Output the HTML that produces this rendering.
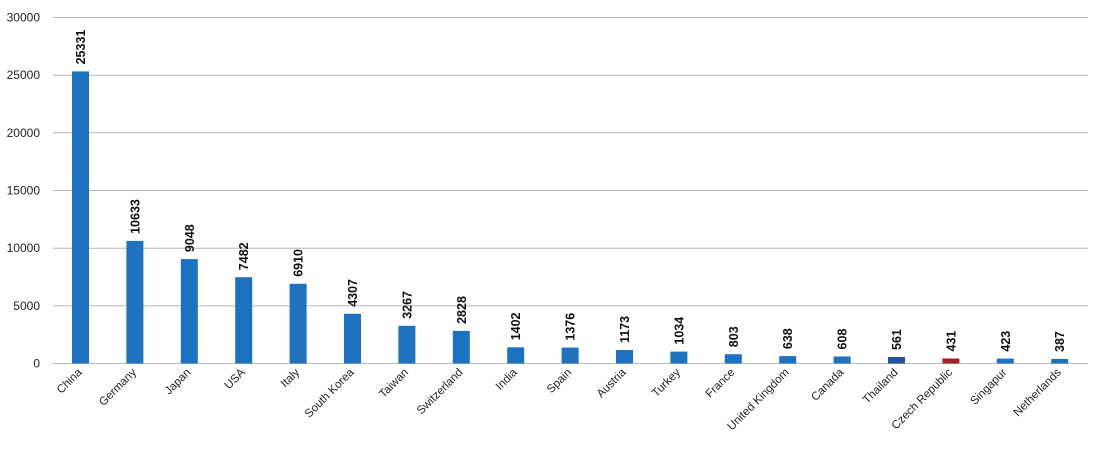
<!DOCTYPE html>
<html><head><meta charset="utf-8"><style>
html,body{margin:0;padding:0;background:#fff;}
svg{display:block;font-family:"Liberation Sans",sans-serif;}
.g{stroke:#b8b8b8;stroke-width:1}
.y{font-size:12px;fill:#222;text-anchor:end}
.v{font-size:12.5px;font-weight:bold;fill:#111}
.x{font-size:11.5px;fill:#222;text-anchor:end}
</style></head><body>
<svg width="1095" height="449" viewBox="0 0 1095 449">
<line class="g" x1="53" x2="1088" y1="17.5" y2="17.5"/>
<line class="g" x1="53" x2="1088" y1="75.2" y2="75.2"/>
<line class="g" x1="53" x2="1088" y1="132.8" y2="132.8"/>
<line class="g" x1="53" x2="1088" y1="190.5" y2="190.5"/>
<line class="g" x1="53" x2="1088" y1="248.2" y2="248.2"/>
<line class="g" x1="53" x2="1088" y1="305.8" y2="305.8"/>
<line class="g" x1="53" x2="1088" y1="363.5" y2="363.5"/>
<text x="40" y="21.5" class="y">30000</text>
<text x="40" y="79" class="y">25000</text>
<text x="40" y="137" class="y">20000</text>
<text x="40" y="194.5" class="y">15000</text>
<text x="40" y="252" class="y">10000</text>
<text x="40" y="310" class="y">5000</text>
<text x="40" y="367.5" class="y">0</text>

<g fill="#1f72c0">
<rect x="72" y="71.4" width="17" height="292.1"/>
<rect x="126.4" y="240.9" width="17" height="122.6"/>
<rect x="180.8" y="259.1" width="17" height="104.4"/>
<rect x="235.2" y="277.2" width="17" height="86.3"/>
<rect x="289.6" y="283.8" width="17" height="79.7"/>
<rect x="344" y="313.8" width="17" height="49.7"/>
<rect x="398.4" y="325.8" width="17" height="37.7"/>
<rect x="452.8" y="330.9" width="17" height="32.6"/>
<rect x="507.2" y="347.3" width="17" height="16.2"/>
<rect x="561.6" y="347.6" width="17" height="15.9"/>
<rect x="616" y="350" width="17" height="13.5"/>
<rect x="670.4" y="351.6" width="17" height="11.9"/>
<rect x="724.8" y="354.2" width="17" height="9.3"/>
<rect x="779.2" y="356.1" width="17" height="7.4"/>
<rect x="833.6" y="356.5" width="17" height="7"/>
<rect x="888" y="357" width="17" height="6.5" fill="#24519c"/>
<rect x="942.4" y="358.5" width="17" height="5" fill="#a3222a"/>
<rect x="996.8" y="358.6" width="17" height="4.9"/>
<rect x="1051.2" y="359" width="17" height="4.5"/>
</g>

<g class="v">
<text class="v" transform="translate(85,64.4) rotate(-90)">25331</text>
<text class="v" transform="translate(139.4,233.9) rotate(-90)">10633</text>
<text class="v" transform="translate(193.8,252.1) rotate(-90)">9048</text>
<text class="v" transform="translate(248.2,270.2) rotate(-90)">7482</text>
<text class="v" transform="translate(302.6,276.8) rotate(-90)">6910</text>
<text class="v" transform="translate(357,306.8) rotate(-90)">4307</text>
<text class="v" transform="translate(411.4,318.8) rotate(-90)">3267</text>
<text class="v" transform="translate(465.8,323.9) rotate(-90)">2828</text>
<text class="v" transform="translate(520.2,340.3) rotate(-90)">1402</text>
<text class="v" transform="translate(574.6,340.6) rotate(-90)">1376</text>
<text class="v" transform="translate(629,343) rotate(-90)">1173</text>
<text class="v" transform="translate(683.4,344.6) rotate(-90)">1034</text>
<text class="v" transform="translate(737.8,347.2) rotate(-90)">803</text>
<text class="v" transform="translate(792.2,349.1) rotate(-90)">638</text>
<text class="v" transform="translate(846.6,349.5) rotate(-90)">608</text>
<text class="v" transform="translate(901,350) rotate(-90)">561</text>
<text class="v" transform="translate(955.4,351.5) rotate(-90)">431</text>
<text class="v" transform="translate(1009.8,351.6) rotate(-90)">423</text>
<text class="v" transform="translate(1064.2,352) rotate(-90)">387</text>
</g>

<text class="x" transform="translate(82.5,373) rotate(-45)">China</text>
<text class="x" transform="translate(136.9,373) rotate(-45)">Germany</text>
<text class="x" transform="translate(191.3,373) rotate(-45)">Japan</text>
<text class="x" transform="translate(245.7,373) rotate(-45)">USA</text>
<text class="x" transform="translate(300.1,373) rotate(-45)">Italy</text>
<text class="x" transform="translate(354.5,373) rotate(-45)">South Korea</text>
<text class="x" transform="translate(408.9,373) rotate(-45)">Taiwan</text>
<text class="x" transform="translate(463.3,373) rotate(-45)">Switzerland</text>
<text class="x" transform="translate(517.7,373) rotate(-45)">India</text>
<text class="x" transform="translate(572.1,373) rotate(-45)">Spain</text>
<text class="x" transform="translate(626.5,373) rotate(-45)">Austria</text>
<text class="x" transform="translate(680.9,373) rotate(-45)">Turkey</text>
<text class="x" transform="translate(735.3,373) rotate(-45)">France</text>
<text class="x" transform="translate(789.7,373) rotate(-45)">United Kingdom</text>
<text class="x" transform="translate(844.1,373) rotate(-45)">Canada</text>
<text class="x" transform="translate(898.5,373) rotate(-45)">Thailand</text>
<text class="x" transform="translate(952.9,373) rotate(-45)">Czech Republic</text>
<text class="x" transform="translate(1007.3,373) rotate(-45)">Singapur</text>
<text class="x" transform="translate(1061.7,373) rotate(-45)">Netherlands</text>
</svg>
</body></html>
